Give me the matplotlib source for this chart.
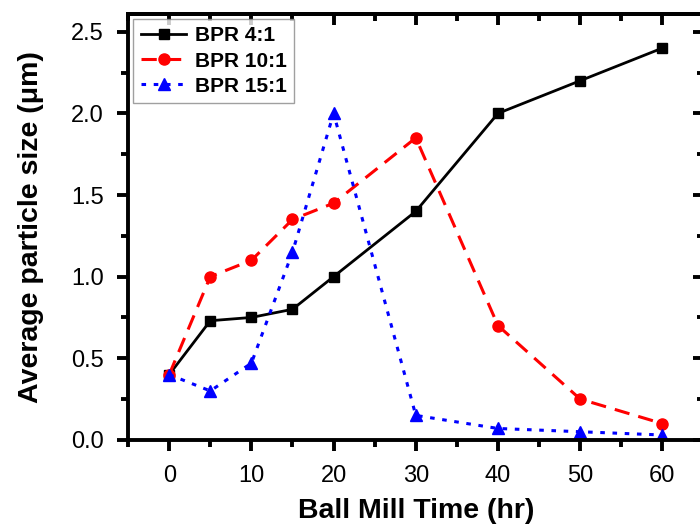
import matplotlib
matplotlib.use('Agg')
import matplotlib.pyplot as plt
from matplotlib.ticker import MultipleLocator, FormatStrFormatter

plt.rcParams['font.family'] = ['Liberation Sans', 'DejaVu Sans']

time_hr = [0, 5, 10, 15, 20, 30, 40, 50, 60]
bpr_4 = [0.40, 0.73, 0.75, 0.80, 1.00, 1.40, 2.00, 2.20, 2.40]
bpr_10 = [0.40, 1.00, 1.10, 1.35, 1.45, 1.85, 0.70, 0.25, 0.10]
bpr_15 = [0.40, 0.30, 0.47, 1.15, 2.00, 0.15, 0.07, 0.05, 0.03]

fig = plt.figure(figsize=(7, 5.3), dpi=100)
ax = fig.add_axes([0.183, 0.170, 0.822, 0.804])

ax.plot(time_hr, bpr_4, color='black', linestyle='-', linewidth=2,
        marker='s', markersize=6.5, label='BPR 4:1')
ax.plot(time_hr, bpr_10, color='red', linestyle=(0, (5, 3)), linewidth=2.2,
        marker='o', markersize=8, label='BPR 10:1')
ax.plot(time_hr, bpr_15, color='blue', linestyle=(0, (1.5, 2.5)), linewidth=2.2,
        marker='^', markersize=9, label='BPR 15:1')

ax.set_xlim(-5, 65)
ax.set_ylim(0, 2.61)
ax.xaxis.set_major_locator(MultipleLocator(10))
ax.xaxis.set_minor_locator(MultipleLocator(5))
ax.yaxis.set_major_locator(MultipleLocator(0.5))
ax.yaxis.set_minor_locator(MultipleLocator(0.25))
ax.yaxis.set_major_formatter(FormatStrFormatter('%.1f'))
ax.set_xticks(range(0, 61, 10))

for s in ax.spines.values():
    s.set_linewidth(2.8)
ax.tick_params(which='both', direction='out', width=2.8, labelsize=17,
               top=False, right=False)
ax.tick_params(which='major', length=8)
ax.tick_params(which='minor', length=5)
ax.tick_params(axis='x', which='major', pad=10)
ax.tick_params(axis='y', which='major', pad=9.5)

# top and right frame carry inward ticks without labels
top = ax.secondary_xaxis('top')
top.xaxis.set_major_locator(MultipleLocator(10))
top.xaxis.set_minor_locator(MultipleLocator(5))
top.tick_params(which='both', direction='in', width=2.8, labeltop=False)
top.tick_params(which='major', length=8)
top.tick_params(which='minor', length=5)
top.spines['top'].set_linewidth(2.8)

right = ax.secondary_yaxis('right')
right.yaxis.set_major_locator(MultipleLocator(0.5))
right.yaxis.set_minor_locator(MultipleLocator(0.25))
right.tick_params(which='both', direction='in', width=2.8, labelright=False)
right.tick_params(which='major', length=8)
right.tick_params(which='minor', length=5)
right.spines['right'].set_linewidth(2.8)

ax.set_xlabel('Ball Mill Time (hr)', fontsize=20.5, fontweight='bold', labelpad=8)
ax.set_ylabel('Average particle size (\u03bcm)', fontsize=20.5, fontweight='bold')
ax.yaxis.set_label_coords(-0.146, 0.5)

leg = ax.legend(loc='upper left', prop={'weight': 'bold', 'size': 15},
                frameon=True, fancybox=False, edgecolor='#888888',
                borderaxespad=0.25, handlelength=2.2, handletextpad=0.4,
                borderpad=0.35, labelspacing=0.3)
leg.get_frame().set_linewidth(1)

fig.savefig('out.png', dpi=100)
